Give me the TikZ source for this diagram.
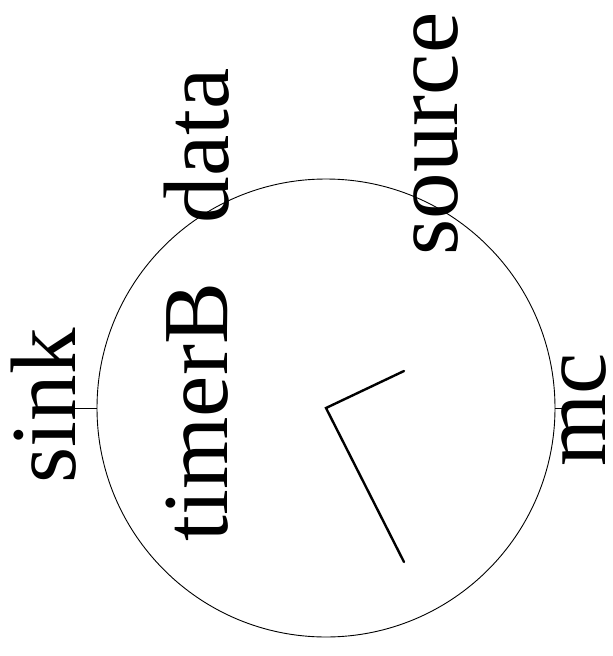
\documentclass[tikz,border=0pt]{standalone}
\usepackage{fontspec}
\setmainfont{Liberation Serif}
\tikzset{
  lbl/.style={rotate=90, anchor=base, inner sep=0pt, text depth=0pt, font=\fontsize{93}{93}\selectfont},
  hand/.style={line width=2.4pt, line cap=round, line join=miter}
}
\begin{document}
\begin{tikzpicture}[x=1pt,y=-1pt]
  \useasboundingbox (0,0) rectangle (613,656);
  \node[draw, circle, line width=0.9pt, minimum size=458pt, inner sep=0pt] (timer) at (326,408) {};
  \coordinate (sinkend) at (75,408);
  \coordinate (mcend) at (568,408);
  \draw[line width=0.9pt] (sinkend) -- (timer.west);
  \draw[line width=0.9pt] (timer.east) -- (mcend);
  \coordinate (handa) at (404,371);
  \coordinate (handb) at (404,562);
  \draw[hand] (handa) -- (timer.center) -- (handb);
  \node[lbl] (sink) at (75,406) {sink};
  \node[lbl] (timerB) at (227,412) {timerB};
  \node[lbl] (data) at (228,146) {data};
  \node[lbl] (source) at (457,134) {source};
  \node[lbl] (mc) at (605,410) {mc};
\end{tikzpicture}
\end{document}
